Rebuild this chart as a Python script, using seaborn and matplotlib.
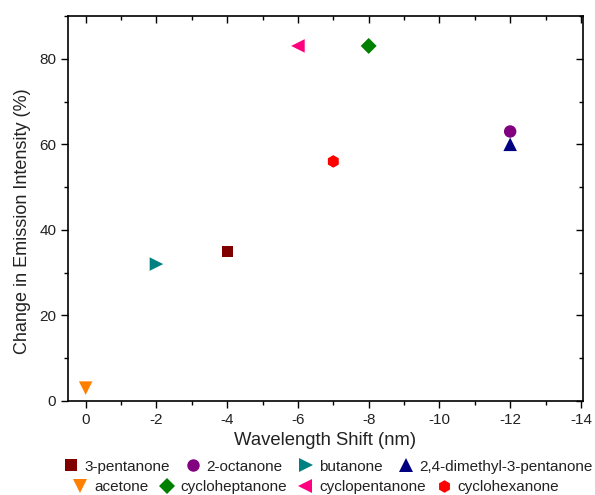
import matplotlib
matplotlib.use("Agg")
import matplotlib.pyplot as plt
import seaborn as sns
import pandas as pd
from matplotlib.ticker import MultipleLocator

compounds = ["3-pentanone", "2-octanone", "butanone", "2,4-dimethyl-3-pentanone",
             "acetone", "cycloheptanone", "cyclopentanone", "cyclohexanone"]
shift_nm = [-4, -12, -2, -12, 0, -8, -6, -7]
intensity_change = [35, 63, 32, 60, 3, 83, 83, 56]
colors = ["#800000", "#800080", "#008080", "#000080",
          "#FF8000", "#008000", "#FF0080", "#FF0000"]
markers = ["s", "o", ">", "^", "v", "D", "<", "h"]
marker_area = [64, 80, 95, 95, 95, 66, 95, 82]

df = pd.DataFrame({"compound": compounds, "shift": shift_nm, "change": intensity_change})

sns.set_theme(style="ticks")
plt.rcParams["font.family"] = ["Liberation Sans", "DejaVu Sans"]

fig = plt.figure(figsize=(5.95, 4.95), dpi=100)
ax = fig.add_axes([0.1143, 0.19, 0.865, 0.7777])

sns.scatterplot(data=df, x="shift", y="change", hue="compound", style="compound",
                size="compound",
                hue_order=compounds, style_order=compounds, size_order=compounds,
                palette=dict(zip(compounds, colors)),
                markers=dict(zip(compounds, markers)),
                sizes=dict(zip(compounds, marker_area)),
                linewidth=0, ax=ax, legend=True)

handles, labels = ax.get_legend_handles_labels()
ax.get_legend().remove()
hmap = dict(zip(labels, handles))

ax.set_xlim(0.5, -14.05)
ax.set_ylim(0, 90)
ax.set_xticks([0, -2, -4, -6, -8, -10, -12, -14])
ax.set_xticklabels(["0", "-2", "-4", "-6", "-8", "-10", "-12", "-14"])
ax.xaxis.set_minor_locator(MultipleLocator(1))
ax.yaxis.set_major_locator(MultipleLocator(20))
ax.yaxis.set_minor_locator(MultipleLocator(10))
ax.tick_params(axis="both", which="major", direction="out", length=5, width=1,
               labelsize=11, color="black", labelcolor="#222222")
ax.tick_params(axis="both", which="minor", direction="out", length=3, width=1, color="black")
ax.tick_params(top=True, right=True, which="both")
for spine in ax.spines.values():
    spine.set_visible(True)
    spine.set_linewidth(1.2)
    spine.set_color("black")

for t in ax.xaxis.get_major_ticks() + ax.xaxis.get_minor_ticks():
    t.tick2line.set_marker(3)
for t in ax.yaxis.get_major_ticks() + ax.yaxis.get_minor_ticks():
    t.tick2line.set_marker(0)

ax.set_xlabel("Wavelength Shift (nm)", fontsize=13.3, color="#222222", labelpad=4)
ax.set_ylabel("Change in Emission Intensity (%)", fontsize=13, color="#222222")
ax.yaxis.set_label_coords(-0.071, 0.468)

row1 = compounds[:4]
row2 = compounds[4:]
common = dict(ncol=4, frameon=False, fontsize=11, handletextpad=0.3,
              handlelength=1.2, labelcolor="#222222")
leg1 = fig.legend([hmap[c] for c in row1], row1, loc="center",
                  bbox_to_anchor=(0.55, 0.057), columnspacing=0.9, **common)
leg2 = fig.legend([hmap[c] for c in row2], row2, loc="center",
                  bbox_to_anchor=(0.53, 0.016), columnspacing=0.6, **common)

fig.savefig("out.png", dpi=100, facecolor="white")
